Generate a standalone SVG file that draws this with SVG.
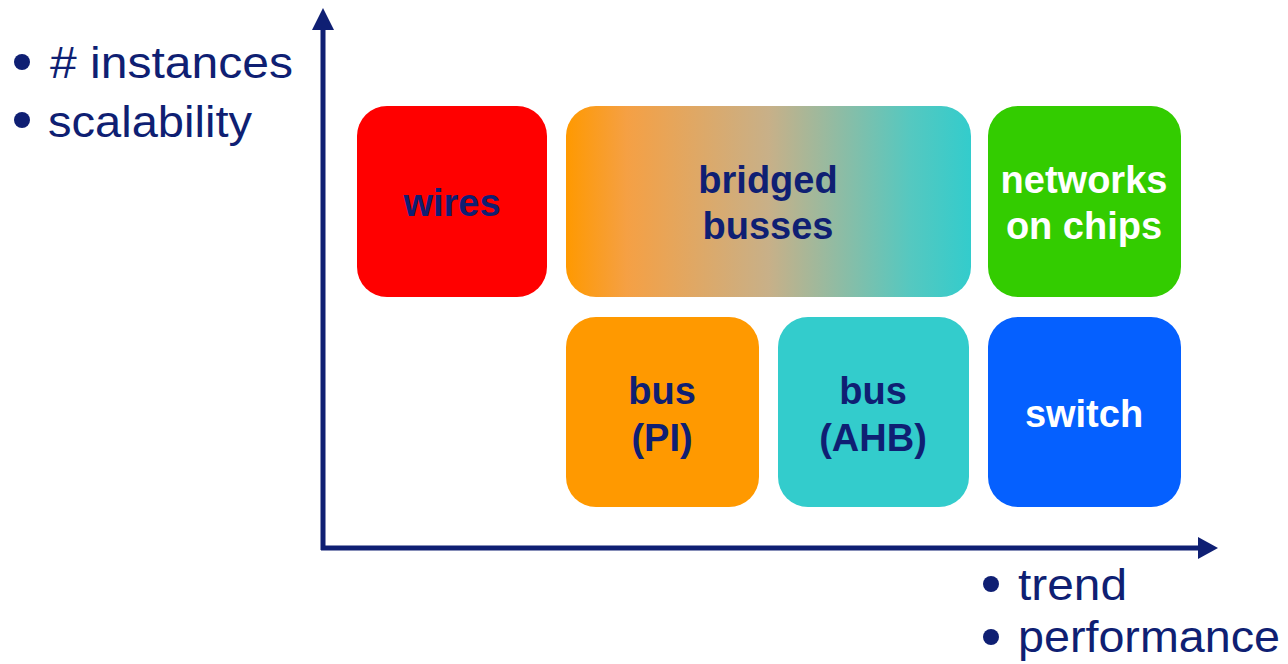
<svg xmlns="http://www.w3.org/2000/svg" width="1288" height="664" viewBox="0 0 1288 664">
<style>
.lbl{font-family:"Liberation Sans",Arial,sans-serif;font-weight:bold;font-size:38px;fill:#0f1f73;text-anchor:middle}
.wht{fill:#ffffff}
.side{font-family:"Liberation Sans",Arial,sans-serif;font-size:44px;fill:#0f1f73}
.dot{fill:#0f1f73}
.axis{stroke:#0f1f73;stroke-width:5;fill:none}
</style>
<defs>
<linearGradient id="grad" x1="0" y1="0" x2="1" y2="0">
<stop offset="0" stop-color="#ff9900"/>
<stop offset="0.15" stop-color="#f5a044"/>
<stop offset="0.5" stop-color="#c8b088"/>
<stop offset="0.85" stop-color="#55c8c0"/>
<stop offset="1" stop-color="#33cccc"/>
</linearGradient>
</defs>
<g id="axes">
<line class="axis" x1="323" y1="550" x2="323" y2="26"/>
<polygon points="312,30 323,8 334,30" fill="#0f1f73"/>
<line class="axis" x1="321" y1="548" x2="1200" y2="548"/>
<polygon points="1198,537 1218,548 1198,559" fill="#0f1f73"/>
</g>
<g id="ylabels">
<circle class="dot" cx="22" cy="62" r="8"/>
<text class="side" x="50" y="78" textLength="243" lengthAdjust="spacingAndGlyphs"># instances</text>
<circle class="dot" cx="22" cy="120" r="8"/>
<text class="side" x="48" y="137" textLength="204" lengthAdjust="spacingAndGlyphs">scalability</text>
</g>
<g id="xlabels">
<circle class="dot" cx="991" cy="584" r="8"/>
<text class="side" x="1018" y="600" textLength="109" lengthAdjust="spacingAndGlyphs">trend</text>
<circle class="dot" cx="991" cy="637" r="8"/>
<text class="side" x="1018" y="652" textLength="262" lengthAdjust="spacingAndGlyphs">performance</text>
</g>
<g id="wires">
<rect x="357" y="106" width="190" height="191" rx="30" fill="#ff0000"/>
<text class="lbl" x="452" y="216">wires</text>
</g>
<g id="bridged">
<rect x="566" y="106" width="405" height="191" rx="30" fill="url(#grad)"/>
<text class="lbl" x="768" y="193">bridged</text>
<text class="lbl" x="768" y="239">busses</text>
</g>
<g id="noc">
<rect x="988" y="106" width="193" height="191" rx="30" fill="#33cc00"/>
<text class="lbl wht" x="1084" y="193">networks</text>
<text class="lbl wht" x="1084" y="239">on chips</text>
</g>
<g id="buspi">
<rect x="566" y="317" width="193" height="190" rx="30" fill="#ff9900"/>
<text class="lbl" x="662" y="404">bus</text>
<text class="lbl" x="662" y="451">(PI)</text>
</g>
<g id="busahb">
<rect x="778" y="317" width="191" height="190" rx="30" fill="#33cccc"/>
<text class="lbl" x="873" y="404">bus</text>
<text class="lbl" x="873" y="451">(AHB)</text>
</g>
<g id="switch">
<rect x="988" y="317" width="193" height="190" rx="30" fill="#0560ff"/>
<text class="lbl wht" x="1084" y="427">switch</text>
</g>
</svg>
